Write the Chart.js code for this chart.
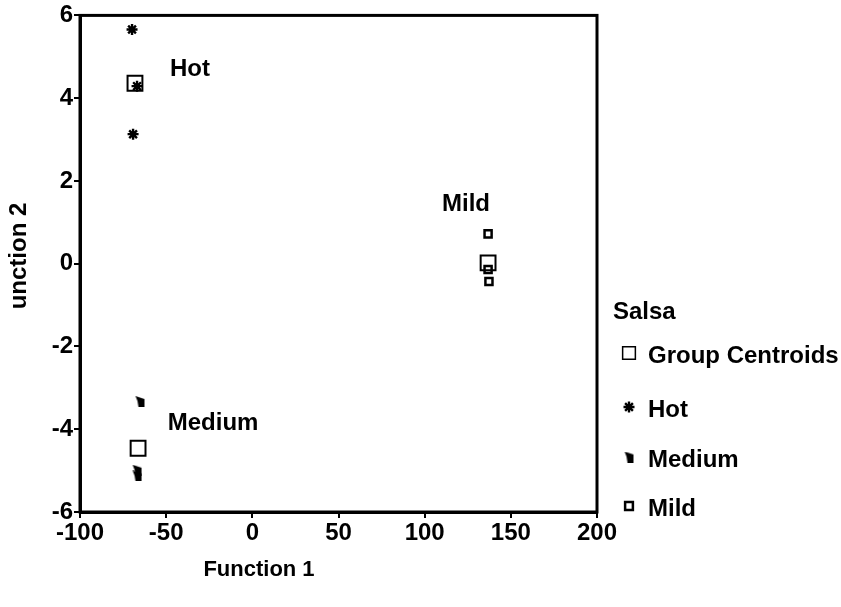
<!DOCTYPE html>
<html>
<head>
<meta charset="utf-8">
<script src="https://cdn.jsdelivr.net/npm/chart.js@4/dist/chart.umd.min.js"></script>
<style>
  html, body { margin: 0; padding: 0; background: #fff; }
  #wrap { width: 841px; height: 607px; }
</style>
</head>
<body>
<div id="wrap"><canvas id="salsaChart" width="841" height="607"></canvas></div>
<script>
// Discriminant scores (Function 1, Function 2) per salsa type
const hotX = [-69.8, -66.9, -69.2];
const hotY = [5.66, 4.29, 3.13];
const mediumX = [-65.2, -66.9, -66.9];
const mediumY = [-3.33, -4.99, -5.13];
const mildX = [136.8, 136.8, 137.3];
const mildY = [0.72, -0.14, -0.43];
const centroidX = [-68.1, -66.3, 136.8];
const centroidY = [4.36, -4.46, 0.02];

// group name labels placed in data coordinates (centre x, baseline y)
const groupNames = ['Hot', 'Mild', 'Medium'];
const groupLabelX = [-36.2, 124, -22.8];
const groupLabelY = [4.53, 1.27, -4.02];

const xTitle = 'Function 1';
const yTitle = 'unction 2';
const legendTitle = 'Salsa';

const FAMILY = '"Liberation Sans", Arial, sans-serif';

function toPoints(xs, ys) {
  return xs.map((x, i) => ({ x: x, y: ys[i] }));
}

// little "flag" glyph used for the Medium group
function makeMediumGlyph() {
  const c = document.createElement('canvas');
  c.width = 11;
  c.height = 11;
  const g = c.getContext('2d');
  g.fillStyle = '#000';
  g.beginPath();
  g.moveTo(1, 0);
  g.lineTo(10, 3);
  g.lineTo(10, 11);
  g.lineTo(4, 11);
  g.lineTo(3, 5);
  g.closePath();
  g.fill();
  return c;
}
const mediumGlyph = makeMediumGlyph();

const datasets = [
  {
    label: 'Group Centroids',
    data: toPoints(centroidX, centroidY),
    pointStyle: 'rect',
    pointRadius: 10.5,
    pointBorderWidth: 2,
    pointBorderColor: '#000',
    pointBackgroundColor: 'rgba(255,255,255,0)',
    legendRadius: 9,
    legendBorder: 1.5
  },
  {
    label: 'Hot',
    data: toPoints(hotX, hotY),
    pointStyle: 'star',
    pointRadius: 5.5,
    pointBorderWidth: 2.4,
    pointBorderColor: '#000',
    pointBackgroundColor: '#000',
    legendRadius: 5.5,
    legendBorder: 2.4
  },
  {
    label: 'Medium',
    data: toPoints(mediumX, mediumY),
    pointStyle: mediumGlyph,
    pointRadius: 5,
    pointBorderColor: '#000',
    pointBackgroundColor: '#000',
    legendRadius: 5,
    legendBorder: 1
  },
  {
    label: 'Mild',
    data: toPoints(mildX, mildY),
    pointStyle: 'rect',
    pointRadius: 5,
    pointBorderWidth: 2.5,
    pointBorderColor: '#000',
    pointBackgroundColor: '#fff',
    legendRadius: 5.5,
    legendBorder: 2.5
  }
];

// frame, group labels, axis titles and legend
const decorPlugin = {
  id: 'decor',
  beforeDatasetsDraw(chart) {
    const a = chart.chartArea;
    const ctx = chart.ctx;
    ctx.save();
    ctx.strokeStyle = '#000';
    ctx.lineWidth = 3;
    ctx.strokeRect(a.left, a.top, a.right - a.left, a.bottom - a.top);
    ctx.restore();
  },
  afterDraw(chart) {
    const ctx = chart.ctx;
    const xs = chart.scales.x;
    const ys = chart.scales.y;
    ctx.save();
    ctx.fillStyle = '#000';
    ctx.font = 'bold 24px ' + FAMILY;
    ctx.textAlign = 'center';
    ctx.textBaseline = 'alphabetic';

    groupNames.forEach((name, i) => {
      ctx.fillText(name, xs.getPixelForValue(groupLabelX[i]), ys.getPixelForValue(groupLabelY[i]));
    });

    // axis titles
    ctx.save();
    ctx.translate(26, 256);
    ctx.rotate(-Math.PI / 2);
    ctx.fillText(yTitle, 0, 0);
    ctx.restore();
    ctx.font = 'bold 22px ' + FAMILY;
    ctx.fillText(xTitle, 259, 576);

    // legend
    ctx.font = 'bold 24px ' + FAMILY;
    ctx.textAlign = 'left';
    ctx.fillText(legendTitle, 613, 319);
    const rowY = [363, 417, 467, 516];
    chart.data.datasets.forEach((ds, i) => {
      const y = rowY[i];
      ctx.save();
      ctx.strokeStyle = '#000';
      ctx.fillStyle = ds.pointBackgroundColor;
      ctx.lineWidth = ds.legendBorder;
      Chart.helpers.drawPoint(ctx, {
        pointStyle: ds.pointStyle,
        rotation: 0,
        radius: ds.legendRadius,
        borderWidth: ds.legendBorder
      }, 629, y - 10);
      ctx.restore();
      ctx.fillStyle = '#000';
      ctx.fillText(ds.label, 648, y);
    });
    ctx.restore();
  }
};

const tickFont = { family: FAMILY, size: 24, weight: 'bold' };

const ctx = document.getElementById('salsaChart').getContext('2d');
const salsaChart = new Chart(ctx, {
  type: 'scatter',
  data: { datasets: datasets },
  options: {
    responsive: false,
    animation: false,
    layout: {
      padding: { left: 0, right: 244, top: 14, bottom: 0 }
    },
    plugins: {
      legend: { display: false },
      tooltip: { enabled: false }
    },
    scales: {
      x: {
        type: 'linear',
        min: -100,
        max: 200,
        ticks: { stepSize: 50, color: '#000', font: tickFont, padding: 1 },
        grid: {
          drawOnChartArea: false,
          drawTicks: true,
          tickLength: 6,
          color: '#000',
          lineWidth: 2
        },
        border: { color: '#000', width: 3 },
        afterFit(scale) { scale.height = 95; }
      },
      y: {
        type: 'linear',
        min: -6,
        max: 6,
        ticks: { stepSize: 2, color: '#000', font: tickFont, padding: 1 },
        grid: {
          drawOnChartArea: false,
          drawTicks: true,
          tickLength: 6,
          color: '#000',
          lineWidth: 2
        },
        border: { color: '#000', width: 3 },
        afterFit(scale) { scale.width = 80; }
      }
    }
  },
  plugins: [decorPlugin]
});
</script>
</body>
</html>
